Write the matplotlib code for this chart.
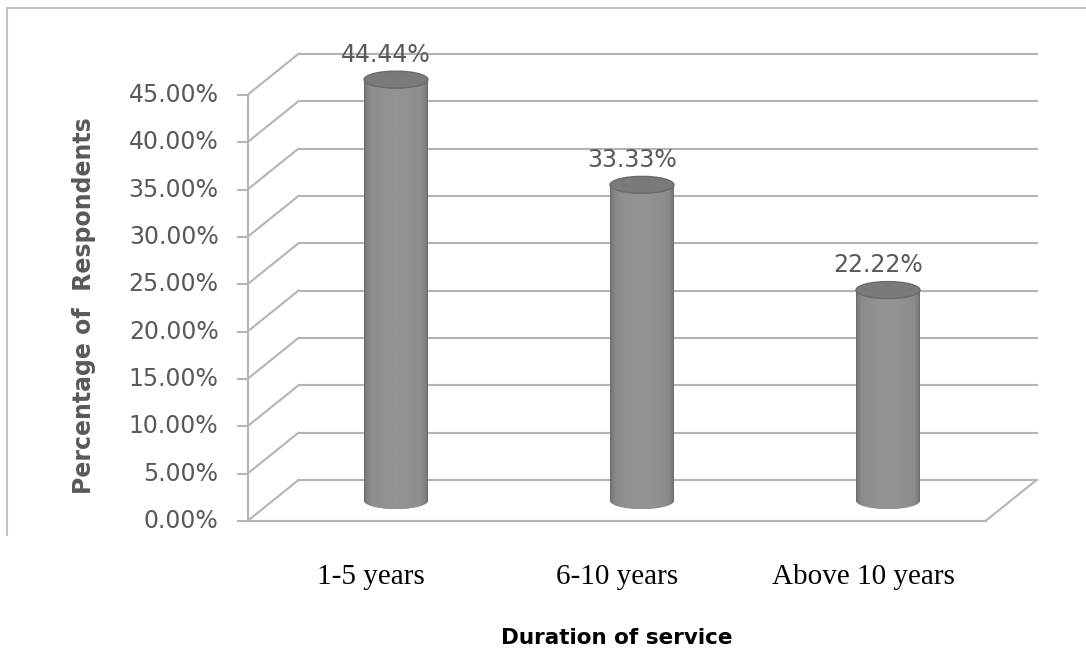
import numpy as np
import matplotlib.pyplot as plt
from matplotlib.path import Path
from matplotlib.patches import PathPatch, Ellipse
from matplotlib.colors import LinearSegmentedColormap

categories = ["1-5 years", "6-10 years", "Above 10 years"]
values = [44.44, 33.33, 22.22]
value_labels = ["44.44%", "33.33%", "22.22%"]
yticks = [0, 5, 10, 15, 20, 25, 30, 35, 40, 45]

# pixel scales of the picture (px per category, px per percent)
SX = 246.0
SY = 9.47
DX = 25.5 / SX      # half depth shift in x
DY = 41.0 / SY      # full depth shift in y
XL, XR = -0.5, 2.5  # side walls at mid depth

grid_col = "#b4b4b4"
text_col = "#595959"

fig = plt.figure(figsize=(10.86, 6.51), dpi=100)
ax = fig.add_axes([0, 0, 1, 1])
ax.axis("off")

# back wall gridlines and left wall diagonals
for t in yticks:
    ax.plot([XL + DX, XR + DX], [t + DY, t + DY], color=grid_col, lw=1.5, zorder=1)
    ax.plot([XL - DX, XL + DX], [t, t + DY], color=grid_col, lw=1.5, zorder=1)
    ax.plot([XL - DX - 10 / SX, XL - DX], [t, t], color=grid_col, lw=1.5, zorder=1)
    ax.text(XL - DX - 29 / SX, t, f"{t:.2f}%", ha="right", va="center",
            fontsize=17, color=text_col)

# floor and front axis
ax.plot([XL - DX, XR - DX], [0, 0], color=grid_col, lw=1.5, zorder=1)
ax.plot([XR - DX, XR + DX], [0, DY], color=grid_col, lw=1.5, zorder=1)
ax.plot([XL - DX, XL - DX], [0, yticks[-1]], color=grid_col, lw=1.5, zorder=1)

# chart border (top and left only, the rest is cut off)
ax.plot([7 / 1086, 7 / 1086, 1.0], [1 - 535 / 651, 1 - 8 / 651, 1 - 8 / 651],
        transform=ax.transAxes, color="#c4c4c4", lw=1.5, zorder=1)

cmap = LinearSegmentedColormap.from_list("cyl", ["#6a6a6a", "#8a8a8a", "#939393"])
W = 64 / SX
EH = 17 / SY
base = DY / 2
th = np.linspace(np.pi, 2 * np.pi, 60)

for i, v in enumerate(values):
    top = v + DY / 2
    xs = np.concatenate([[i - W / 2, i - W / 2], i + W / 2 * np.cos(th),
                         [i + W / 2], i + W / 2 * np.cos(th[::-1])])
    ys = np.concatenate([[top, base], base + EH / 2 * np.sin(th),
                         [top], top + EH / 2 * np.sin(th[::-1])])
    body = PathPatch(Path(np.column_stack([xs, ys])), facecolor="#888888",
                     edgecolor="none", zorder=2)
    ax.add_patch(body)
    g = np.sin(np.linspace(0, np.pi, 80)) ** 0.5
    im = ax.imshow(g[None, :], extent=(i - W / 2, i + W / 2, base - EH, top),
                   cmap=cmap, aspect="auto", zorder=3, vmin=0, vmax=1)
    im.set_clip_path(body)
    ax.add_patch(Ellipse((i, top), W, EH, facecolor="#7a7a7a",
                         edgecolor="#6a6a6a", lw=1, zorder=4))
    ax.text(i - 10 / SX, top + 2.6, value_labels[i], ha="center", va="center",
            fontsize=17, color=text_col, zorder=5)
    ax.text(i - 25 / SX, -5.9, categories[i], ha="center", va="center",
            fontsize=21, family="Liberation Serif", color="black")

ax.set_xlim(-396 / SX, (1086 - 396) / SX)
ax.set_ylim((521 - 651) / SY, 521 / SY)

fig.text(84 / 1086, 1 - 306 / 651, "Percentage of  Respondents", rotation=90,
         ha="center", va="center", fontsize=17, fontweight="bold", color=text_col)
fig.text(617 / 1086, 1 - 638 / 651, "Duration of service", ha="center",
         va="center", fontsize=15.5, fontweight="bold", color="black")

fig.savefig("out.png", dpi=100)
